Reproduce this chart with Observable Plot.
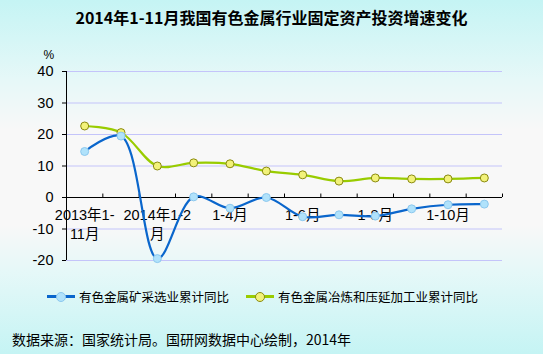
<!DOCTYPE html>
<html><head><meta charset="utf-8">
<script src="https://cdn.jsdelivr.net/npm/d3@7"></script>
<script src="https://cdn.jsdelivr.net/npm/@observablehq/plot@0.6"></script>
<style>
html,body{margin:0;padding:0;}
body{width:543px;height:354px;overflow:hidden;position:relative;
background:linear-gradient(#c5f4f4 0px,#e6f8f8 80px,#f8f8f8 130px,#f8f8f8 225px,#e6f8f8 270px,#c5f4f4 354px);
font-family:"Liberation Sans","Noto Sans CJK SC",sans-serif;}
#title{position:absolute;left:0;top:5px;width:543px;text-align:center;font-weight:bold;font-size:16px;color:#000;font-family:"Noto Sans CJK SC",sans-serif;}
#chart{position:absolute;left:0;top:36px;}
#legend{position:absolute;top:287px;left:47px;font-size:12.5px;color:#000;font-family:"Noto Sans CJK SC",sans-serif;white-space:nowrap;}
.li{position:absolute;top:0;display:flex;align-items:center;height:18px;}
.sw{position:relative;width:28px;height:18px;margin-right:4px;}
.sw .ln{position:absolute;left:0;top:8px;width:28px;height:3px;}
.sw .dt{position:absolute;left:9px;top:4.5px;width:8px;height:8px;border-radius:50%;}
#caption{position:absolute;left:12px;top:329px;font-size:14px;color:#000;font-family:"Noto Sans CJK SC",sans-serif;white-space:nowrap;}
</style></head>
<body>
<div id="title">2014年1-11月我国有色金属行业固定资产投资增速变化</div>
<div id="chart"></div>
<div id="legend">
  <div class="li" style="left:0px"><div class="sw"><div class="ln" style="background:#0a66cc"></div><div class="dt" style="background:#b0e2fb;border:1px solid #8cc8ee"></div></div>有色金属矿采选业累计同比</div>
  <div class="li" style="left:199px"><div class="sw"><div class="ln" style="background:#99cc00"></div><div class="dt" style="background:#f2f27a;border:1px solid #8a8a10"></div></div>有色金属冶炼和压延加工业累计同比</div>
</div>
<div id="caption">数据来源：国家统计局。国研网数据中心绘制，2014年</div>
<script>
const categories = ["2013年1-11月","2013年1-12月","2014年1-2月","1-3月","1-4月","1-5月","1-6月","1-7月","1-8月","1-9月","1-10月","1-11月"];
const tickLabels = ["2013年1-\n11月","","2014年1-2\n月","","1-4月","","1-6月","","1-8月","","1-10月",""];
const mining = [14.6, 19.5, -19.4, 0.2, -3.4, 0.0, -6.1, -5.5, -5.9, -3.6, -2.3, -2.1];
const smelting = [22.7, 20.6, 10.0, 11.0, 10.7, 8.4, 7.2, 5.2, 6.2, 5.9, 5.9, 6.2];
const yTicks = [-20, -10, 0, 10, 20, 30, 40];
const gridVals = [-20, -10, 10, 20, 30, 40];

const rows = categories.map((c, i) => ({i, c, label: tickLabels[i], mining: mining[i], smelting: smelting[i]}));
const bandEdges = d3.range(categories.length + 1).map(i => i - 0.5);

const chart = Plot.plot({
  width: 543, height: 240,
  marginLeft: 66, marginRight: 41, marginTop: 35, marginBottom: 16,
  style: {background: "transparent", fontFamily: "Liberation Sans, Noto Sans CJK SC, sans-serif"},
  x: {type: "linear", domain: [-0.5, categories.length - 0.5], axis: null},
  y: {domain: [-20, 40], axis: null},
  marks: [
    Plot.ruleY(gridVals, {stroke: "#c4c4fa", strokeWidth: 1}),
    Plot.ruleX([-0.5], {y1: -20, y2: 40, stroke: "#000", strokeWidth: 1}),
    Plot.axisY({ticks: yTicks, tickFormat: d => String(d), tickSize: 4, tickPadding: 9, fontSize: 14.5, color: "#000", label: null}),
    Plot.text(["%"], {frameAnchor: "top-left", dx: -23, dy: -21, fontSize: 12, fill: "#000"}),
    Plot.ruleY([0], {stroke: "#000", strokeWidth: 1.2}),
    Plot.ruleX(bandEdges, {y1: 0, y2: 1.1, stroke: "#000", strokeWidth: 1}),
    Plot.text(rows, {x: "i", y: 0, text: "label", lineAnchor: "top", dy: 9, fontSize: 14.5, lineHeight: 1.32, fill: "#000"}),
    Plot.line(rows, {x: "i", y: "smelting", curve: "catmull-rom", stroke: "#99cc00", strokeWidth: 2.2}),
    Plot.line(rows, {x: "i", y: "mining", curve: "catmull-rom", stroke: "#0a66cc", strokeWidth: 2.2}),
    Plot.dot(rows, {x: "i", y: "smelting", r: 4, fill: "#f2f27a", stroke: "#8a8a10", strokeWidth: 1}),
    Plot.dot(rows, {x: "i", y: "mining", r: 4, fill: "#b0e2fb", stroke: "#8cc8ee", strokeWidth: 1})
  ]
});
document.getElementById("chart").appendChild(chart);
</script>
</body></html>
